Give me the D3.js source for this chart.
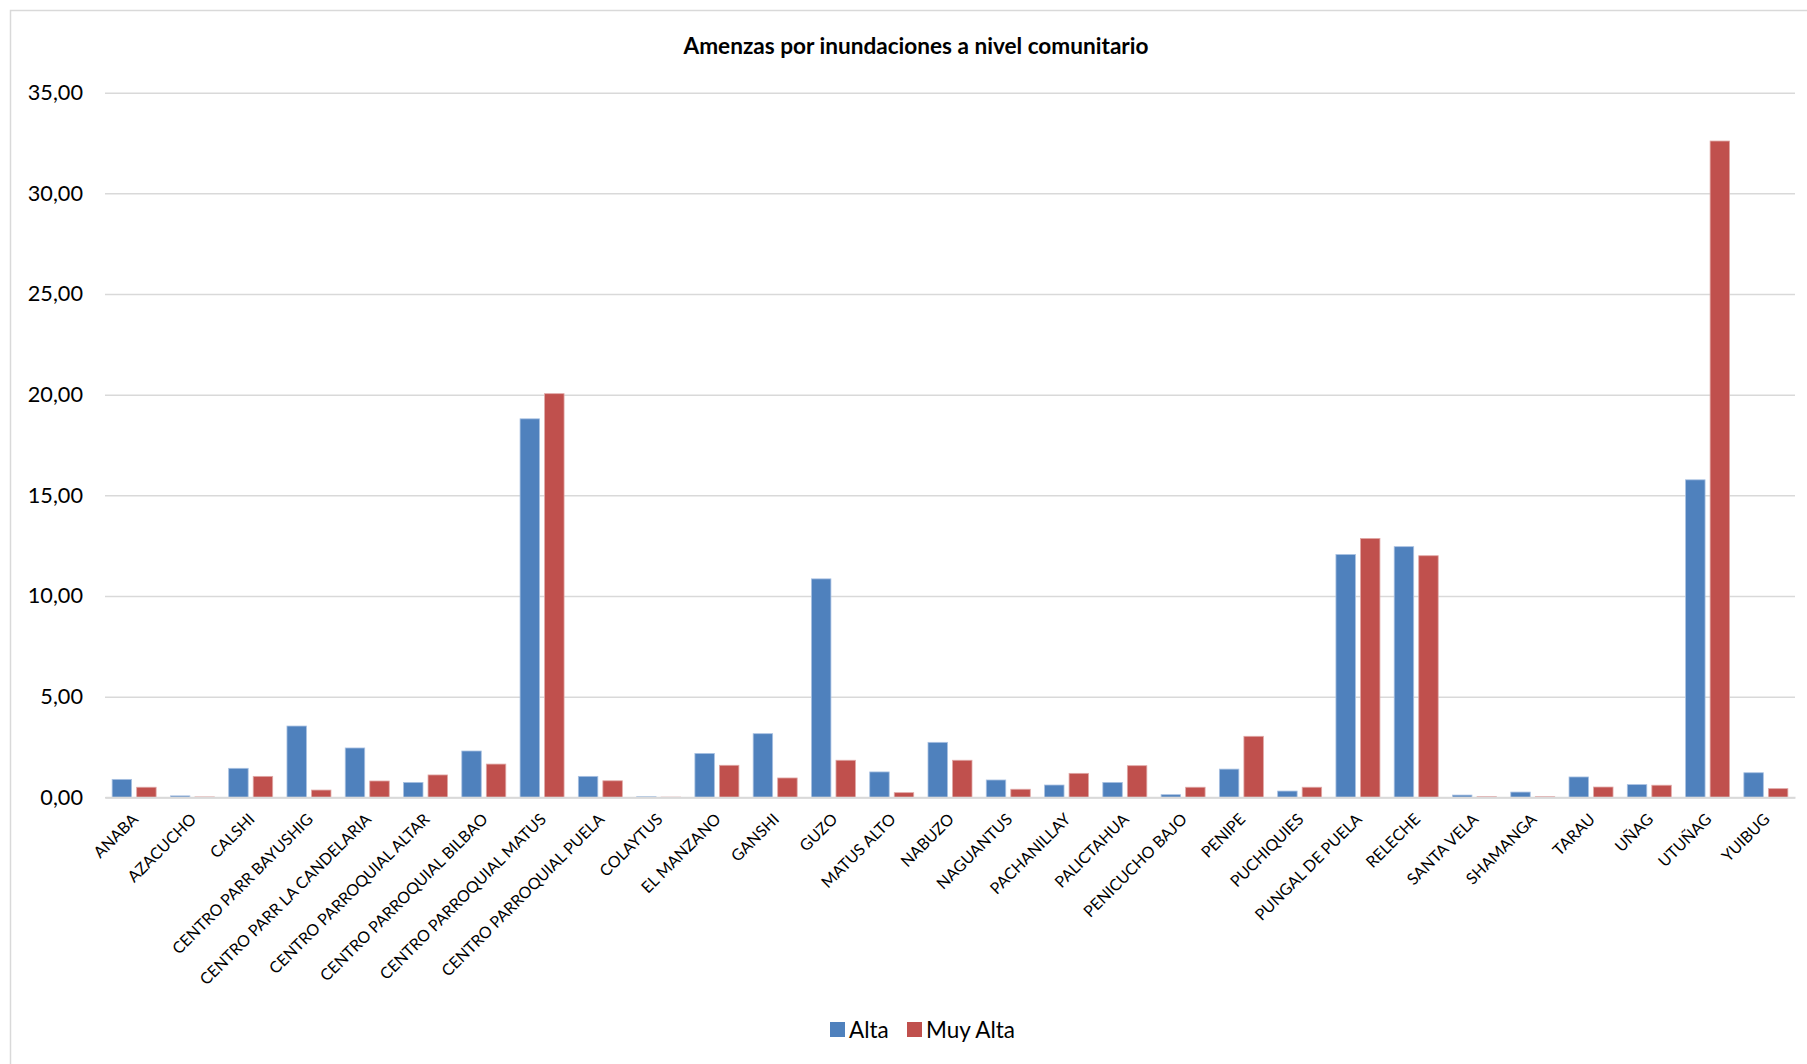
<!DOCTYPE html>
<html>
<head>
<meta charset="utf-8">
<script src="https://cdnjs.cloudflare.com/ajax/libs/d3/7.8.5/d3.min.js"></script>
<style>
  body { margin: 0; background: #fff; }
  text { font-family: Lato, "Open Sans", sans-serif; fill: #000; }
</style>
</head>
<body>
<div class="viz-amenazas"></div>
<script>
// Size of the page
var w = 1807;
var h = 1064;

// Data
var comunidades = ['ANABA', 'AZACUCHO', 'CALSHI', 'CENTRO PARR BAYUSHIG', 'CENTRO PARR LA CANDELARIA',
                   'CENTRO PARROQUIAL ALTAR', 'CENTRO PARROQUIAL BILBAO', 'CENTRO PARROQUIAL MATUS',
                   'CENTRO PARROQUIAL PUELA', 'COLAYTUS', 'EL MANZANO', 'GANSHI', 'GUZO', 'MATUS ALTO',
                   'NABUZO', 'NAGUANTUS', 'PACHANILLAY', 'PALICTAHUA', 'PENICUCHO BAJO', 'PENIPE',
                   'PUCHIQUIES', 'PUNGAL DE PUELA', 'RELECHE', 'SANTA VELA', 'SHAMANGA', 'TARAU',
                   'UÑAG', 'UTUÑAG', 'YUIBUG'];
var alta    = [0.89, 0.07, 1.44, 3.54, 2.45, 0.74, 2.30, 18.80, 1.04, 0.03, 2.18, 3.16, 10.85, 1.26,
               2.73, 0.86, 0.61, 0.74, 0.13, 1.40, 0.31, 12.06, 12.45, 0.11, 0.26, 1.01, 0.63, 15.77, 1.22];
var muyAlta = [0.50, 0.02, 1.04, 0.36, 0.81, 1.11, 1.65, 20.05, 0.82, 0.01, 1.59, 0.96, 1.84, 0.23,
               1.84, 0.40, 1.19, 1.57, 0.50, 3.03, 0.50, 12.86, 12.00, 0.03, 0.03, 0.51, 0.60, 32.60, 0.43];
var series = ['Alta', 'Muy Alta'];
var colores = ['#4F81BD', '#C0504D'];
var yTicks = [0, 5, 10, 15, 20, 25, 30, 35];
var titulo = 'Amenzas por inundaciones a nivel comunitario';

// Build rows for the grouped bars
var rows = comunidades.map(function(c, i) { return {name: c, values: [alta[i], muyAlta[i]]}; });

var svg = d3.select('.viz-amenazas')
            .append('svg')
            .attr('width', w)
            .attr('height', h);

// Chart frame
svg.append('rect')
   .attr('x', 10.5).attr('y', 10.5)
   .attr('width', w).attr('height', h)
   .attr('fill', '#fff')
   .attr('stroke', '#d9d9d9')
   .attr('stroke-width', 1.5);

// Scales
var x0 = d3.scaleBand()
           .domain(comunidades)
           .range([105, 1795])
           .paddingInner(0.245)
           .paddingOuter(0.1225);

var x1 = d3.scaleBand()
           .domain([0, 1])
           .range([0, x0.bandwidth()])
           .paddingInner(0.206);

var y = d3.scaleLinear()
          .domain([0, 35])
          .range([797.3, 92.7]);

var fmt = function(d) { return d3.format('.2f')(d).replace('.', ','); };

// Gridlines + y labels
var yAxis = svg.append('g')
               .attr('transform', 'translate(105,0)')
               .call(d3.axisLeft(y).tickValues(yTicks).tickFormat(fmt).tickSize(-1690).tickPadding(22));
yAxis.select('.domain').remove();
yAxis.selectAll('.tick line')
     .attr('stroke', '#d9d9d9')
     .attr('stroke-width', 1.5);
yAxis.selectAll('.tick text')
     .attr('font-size', '21.7px')
     .attr('font-family', 'Lato, sans-serif')
     .attr('fill', '#000');

// Bars
var groups = svg.selectAll('.grupo')
                .data(rows)
                .enter()
                .append('g')
                .attr('class', 'grupo')
                .attr('transform', function(d) { return 'translate(' + x0(d.name) + ',0)'; });

groups.selectAll('rect')
      .data(function(d) { return d.values; })
      .enter()
      .append('rect')
      .attr('x', function(d, i) { return x1(i); })
      .attr('y', function(d) { return y(d); })
      .attr('width', x1.bandwidth())
      .attr('height', function(d) { return y(0) - y(d); })
      .attr('fill', function(d, i) { return colores[i]; })
      .attr('stroke', function(d, i) { return i == 0 ? '#a9c1e2' : '#e0a8a6'; })
      .attr('stroke-width', 0.8);

// Zero line
var xAxis = svg.append('g')
               .attr('transform', 'translate(0,' + y(0) + ')')
               .call(d3.axisBottom(x0).tickSize(0).tickPadding(0));
xAxis.select('.domain')
     .attr('stroke', '#d9d9d9')
     .attr('stroke-width', 2);
xAxis.selectAll('.tick text')
     .attr('font-size', '16px')
     .attr('font-family', 'Lato, sans-serif')
     .attr('fill', '#000')
     .attr('text-anchor', 'end')
     .attr('dy', 0)
     .attr('transform', 'translate(5,23) rotate(-45)');

// Title
svg.append('text')
   .attr('x', 916)
   .attr('y', 54)
   .attr('text-anchor', 'middle')
   .attr('font-size', '22.6px')
   .attr('font-weight', 'bold')
   .text(titulo);

// Legend
var legendX = [830, 907];
var legend = svg.selectAll('.leyenda')
                .data(series)
                .enter()
                .append('g')
                .attr('class', 'leyenda')
                .attr('transform', function(d, i) { return 'translate(' + legendX[i] + ',1022)'; });
legend.append('rect')
      .attr('width', 15)
      .attr('height', 15)
      .attr('fill', function(d, i) { return colores[i]; });
legend.append('text')
      .attr('x', 19)
      .attr('y', 16)
      .attr('font-size', '22.5px')
      .text(function(d) { return d; });
</script>
</body>
</html>
